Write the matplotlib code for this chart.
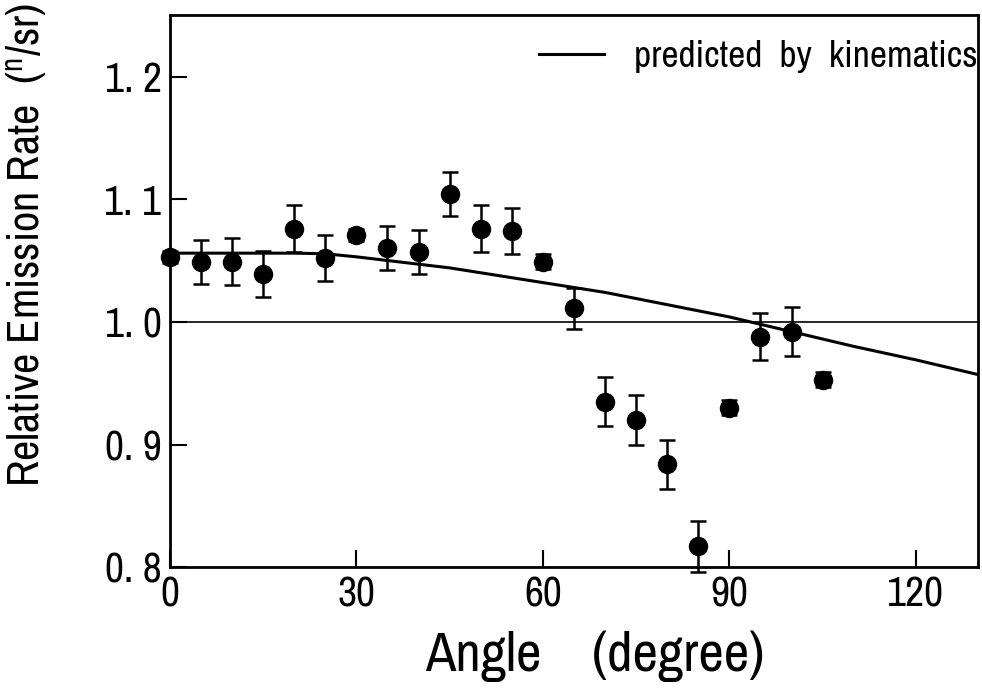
import matplotlib
matplotlib.use("Agg")
import matplotlib.pyplot as plt
from matplotlib import font_manager

# measured points (angle in degree, relative rate, error)
angle = [0, 5, 10, 15, 20, 25, 30, 35, 40, 45, 50, 55, 60,
         65, 70, 75, 80, 85, 90, 95, 100, 105]
rate = [1.053, 1.049, 1.049, 1.039, 1.076, 1.052, 1.071, 1.060, 1.057, 1.104,
        1.076, 1.074, 1.049, 1.011, 0.935, 0.920, 0.884, 0.817, 0.930, 0.988,
        0.992, 0.953]
err = [0.005, 0.018, 0.019, 0.019, 0.019, 0.019, 0.005, 0.018, 0.018, 0.018,
       0.019, 0.019, 0.006, 0.017, 0.020, 0.020, 0.020, 0.021, 0.006, 0.019,
       0.020, 0.006]

# curve predicted by kinematics
kin_angle = [0, 20, 25, 30, 35, 40, 45, 50, 55, 60, 65, 70, 80, 90, 100, 110, 120, 130]
kin_rate = [1.056, 1.056, 1.0555, 1.053, 1.050, 1.047, 1.044, 1.040, 1.036, 1.032,
            1.028, 1.024, 1.014, 1.004, 0.992, 0.980, 0.969, 0.957]

xticks = [0, 30, 60, 90, 120]
yticks = [0.8, 0.9, 1.0, 1.1, 1.2]
ytick_labels = ["0. 8", "0. 9", "1. 0", "1. 1", "1. 2"]

# look for a condensed face, the original lettering is very narrow
names = sorted({f.name for f in font_manager.fontManager.ttflist})
narrow = [n for n in names if "Narrow" in n or "Condensed" in n]
family = narrow[0] if narrow else "DejaVu Sans"
plt.rcParams["font.family"] = [family, "DejaVu Sans"]
plt.rcParams["font.stretch"] = "condensed"
plt.rcParams["mathtext.fontset"] = "custom"
plt.rcParams["mathtext.rm"] = family

fig = plt.figure(figsize=(9.82, 6.9), dpi=100)
ax = fig.add_axes([0.173, 0.178, 0.823, 0.800])

ax.axhline(1.0, color="black", lw=1.2)
ax.plot(kin_angle, kin_rate, color="black", lw=2.2, label="predicted  by  kinematics")
ax.errorbar(angle, rate, yerr=err, fmt="o", color="black", ms=13,
            capsize=6, elinewidth=1.8, capthick=1.8, clip_on=False, zorder=5)

ax.set_xlim(0, 130)
ax.set_ylim(0.8, 1.25)
ax.set_xticks(xticks)
ax.set_yticks(yticks)
ax.set_yticklabels(ytick_labels)
ax.tick_params(direction="in", length=12, width=1.5, labelsize=30, pad=6)
for side in ax.spines.values():
    side.set_linewidth(2)

ax.set_xlabel("Angle    (degree)", fontsize=40)
ax.xaxis.set_label_coords(0.526, -0.115)
ax.set_ylabel(r"Relative Emission Rate  ($^{\rm n}$/sr)", fontsize=32)
ax.yaxis.set_label_coords(-0.15, 0.583)

ax.legend(loc="center right", bbox_to_anchor=(1.0, 0.925), frameon=False,
          borderpad=0, borderaxespad=0, fontsize=27, handlelength=1.75,
          handletextpad=0.8)

fig.savefig("out.png", dpi=100)
